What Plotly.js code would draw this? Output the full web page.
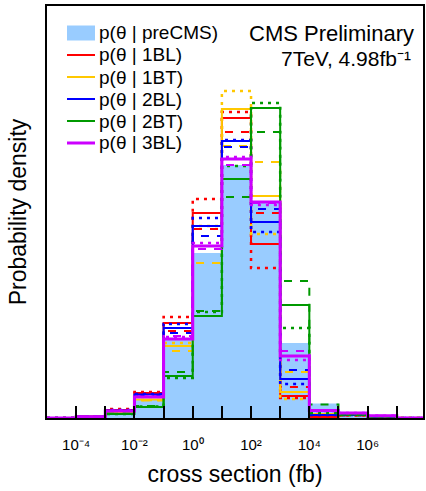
<!DOCTYPE html>
<html><head><meta charset="utf-8">
<script src="https://cdn.plot.ly/plotly-3.0.1.min.js"></script>
<style>html,body{margin:0;padding:0;background:#fff}</style>
</head><body>
<div id="chart" style="width:426px;height:491px"></div>
<script>
// bin edges (cross section, fb) — one decade per bin
const binEdges = [1e-5,1e-4,1e-3,1e-2,1e-1,1e0,1e1,1e2,1e3,1e4,1e5,1e6,1e7,1e8];
const tickVals = [1e-4,1e-2,1e0,1e2,1e4,1e6];
const tickText = ['10⁻⁴','10⁻²','10⁰','10²','10⁴','10⁶'];
const minorTickVals = [1e-3,1e-1,1e1,1e3,1e5,1e7];

// probability per bin
const preCMS    = [0,0.0012,0.0066,0.0217,0.0940,0.1988,0.3048,0.2590,0.0904,0.0175,0.0060,0.0030,0];

const p1BL      = [0,0.0018,0.0096,0.0301,0.1145,0.2470,0.3614,0.2096,0.0265,0.0012,0.0036,0.0018,0];
const p1BL_dash = [0,0.0018,0.0090,0.0289,0.1048,0.2277,0.3446,0.2470,0.0373,0.0018,0.0030,0.0018,0];
const p1BL_dot  = [0,0.0018,0.0108,0.0313,0.1217,0.2639,0.3687,0.1807,0.0241,0.0012,0.0030,0.0012,0];

const p1BT      = [0,0.0014,0.0072,0.0223,0.0867,0.2072,0.3723,0.2675,0.0313,0.0048,0.0036,0.0018,0];
const p1BT_dash = [0,0.0014,0.0066,0.0211,0.0807,0.1867,0.3277,0.3084,0.0554,0.0048,0.0036,0.0018,0];
const p1BT_dot  = [0,0.0014,0.0072,0.0217,0.0904,0.2313,0.3940,0.2217,0.0229,0.0048,0.0036,0.0018,0];

const p2BL      = [0,0.0014,0.0090,0.0283,0.1084,0.2313,0.3337,0.2361,0.0470,0.0036,0.0036,0.0018,0];
const p2BL_dash = [0,0.0014,0.0084,0.0271,0.1024,0.2193,0.3265,0.2518,0.0578,0.0036,0.0036,0.0018,0];
const p2BL_dot  = [0,0.0014,0.0096,0.0289,0.1133,0.2410,0.3349,0.2241,0.0410,0.0036,0.0036,0.0018,0];

const p2BT      = [0,0.0012,0.0048,0.0133,0.0506,0.1229,0.2880,0.3735,0.1361,0.0084,0.0042,0.0018,0];
const p2BT_dash = [0,0.0012,0.0054,0.0145,0.0554,0.1289,0.2663,0.3446,0.1651,0.0163,0.0042,0.0024,0];
const p2BT_dot  = [0,0.0012,0.0048,0.0139,0.0482,0.1277,0.3036,0.3795,0.1084,0.0060,0.0036,0.0018,0];

const p3BL      = [0,0.0014,0.0084,0.0253,0.0952,0.2072,0.3120,0.2602,0.0747,0.0090,0.0060,0.0028,0];
const p3BL_dash = [0,0.0014,0.0084,0.0253,0.0988,0.2036,0.3048,0.2590,0.0807,0.0096,0.0060,0.0028,0];
const p3BL_dot  = [0,0.0014,0.0090,0.0259,0.0976,0.2108,0.3145,0.2566,0.0699,0.0084,0.0060,0.0028,0];

const legendNames = ['p(θ | preCMS)','p(θ | 1BL)','p(θ | 1BT)','p(θ | 2BL)','p(θ | 2BT)','p(θ | 3BL)'];

function stepY(v){ return v.concat([v[v.length-1]]); }

const DASH = '8px,8px';
const DOT = '3px,5px';
const FILL = '#99ccff';
const COLORS = ['#ff0000','#ffc800','#0000ff','#009900','#cc00ff'];
const WIDTHS = [2,2,2,2,3];

function stepTrace(vals, color, dash, width, name){
  return {
    type:'scatter', mode:'lines', x:binEdges, y:stepY(vals),
    line:{shape:'hv', color:color, width:width, dash:dash},
    name:name, showlegend:false, hoverinfo:'skip'
  };
}

const traces = [];
traces.push({
  type:'scatter', mode:'lines', x:binEdges, y:stepY(preCMS),
  line:{shape:'hv', width:0, color:FILL}, fill:'tozeroy', fillcolor:FILL,
  name:legendNames[0], showlegend:false, hoverinfo:'skip'
});
const groups = [
  [p1BL, p1BL_dash, p1BL_dot],
  [p1BT, p1BT_dash, p1BT_dot],
  [p2BL, p2BL_dash, p2BL_dot],
  [p2BT, p2BT_dash, p2BT_dot],
  [p3BL, p3BL_dash, p3BL_dot]
];
groups.forEach((g,i)=>{
  traces.push(stepTrace(g[0], COLORS[i], 'solid', WIDTHS[i], legendNames[i+1]));
  traces.push(stepTrace(g[1], COLORS[i], DASH, 2, legendNames[i+1]+' dashed'));
  traces.push(stepTrace(g[2], COLORS[i], DOT, 2.5, legendNames[i+1]+' dotted'));
});

// plot-area geometry (pixels) for the hand-placed legend box
const W = 426, H = 491, ML = 47, MR = 3, MT = 6, MB = 73;
const PW = W-ML-MR, PH = H-MT-MB;
const px = x => (x-ML)/PW;
const py = y => (H-MB-y)/PH;

const shapes = [];
const annotations = [];
legendNames.forEach((nm,i)=>{
  const yc = 33 + 22*i;
  if(i===0){
    shapes.push({type:'rect', xref:'paper', yref:'paper', x0:px(67), x1:px(95), y0:py(yc-7.5), y1:py(yc+7.5),
      fillcolor:FILL, line:{width:0}, layer:'above'});
  } else {
    shapes.push({type:'line', xref:'paper', yref:'paper', x0:px(67), x1:px(95), y0:py(yc), y1:py(yc),
      line:{color:COLORS[i-1], width:WIDTHS[i-1]}, layer:'above'});
  }
  annotations.push({xref:'paper', yref:'paper', x:px(97), y:py(yc), xanchor:'left', yanchor:'middle',
    text:nm, showarrow:false, font:{size:19, color:'#000'}});
});
annotations.push({xref:'paper', yref:'paper', x:px(416), y:py(34), xanchor:'right', yanchor:'middle',
  text:'CMS Preliminary', showarrow:false, font:{size:22, color:'#000'}});
annotations.push({xref:'paper', yref:'paper', x:px(413), y:py(58), xanchor:'right', yanchor:'middle',
  text:'7TeV, 4.98fb⁻¹', showarrow:false, font:{size:21, color:'#000'}});

const layout = {
  width:W, height:H,
  margin:{l:ML, r:MR, t:MT, b:MB},
  paper_bgcolor:'#ffffff', plot_bgcolor:'#ffffff',
  font:{family:'"Liberation Sans", Arial, Helvetica, sans-serif', color:'#000'},
  showlegend:false,
  xaxis:{
    type:'log', range:[-5, 7.9], tickmode:'array', tickvals:tickVals, ticktext:tickText,
    ticks:'inside', ticklen:12, tickwidth:2, tickcolor:'#000',
    minor:{tickmode:'array', tickvals:minorTickVals, ticks:'inside', ticklen:12, tickwidth:2, tickcolor:'#000', showgrid:false},
    showline:true, linewidth:2, linecolor:'#000', mirror:true,
    showgrid:false, zeroline:false, tickfont:{size:15, color:'#000'},
    ticklabelstandoff:12,
    title:{text:'cross section (fb)', font:{size:23, color:'#000'}, standoff:14}
  },
  yaxis:{
    range:[0, 0.4964], showticklabels:false, ticks:'',
    showline:true, linewidth:2, linecolor:'#000', mirror:true,
    showgrid:false, zeroline:false,
    title:{text:'Probability density', font:{size:23, color:'#000'}, standoff:12}
  },
  shapes:shapes,
  annotations:annotations
};

Plotly.newPlot('chart', traces, layout, {staticPlot:true, displayModeBar:false});
</script>
</body></html>
